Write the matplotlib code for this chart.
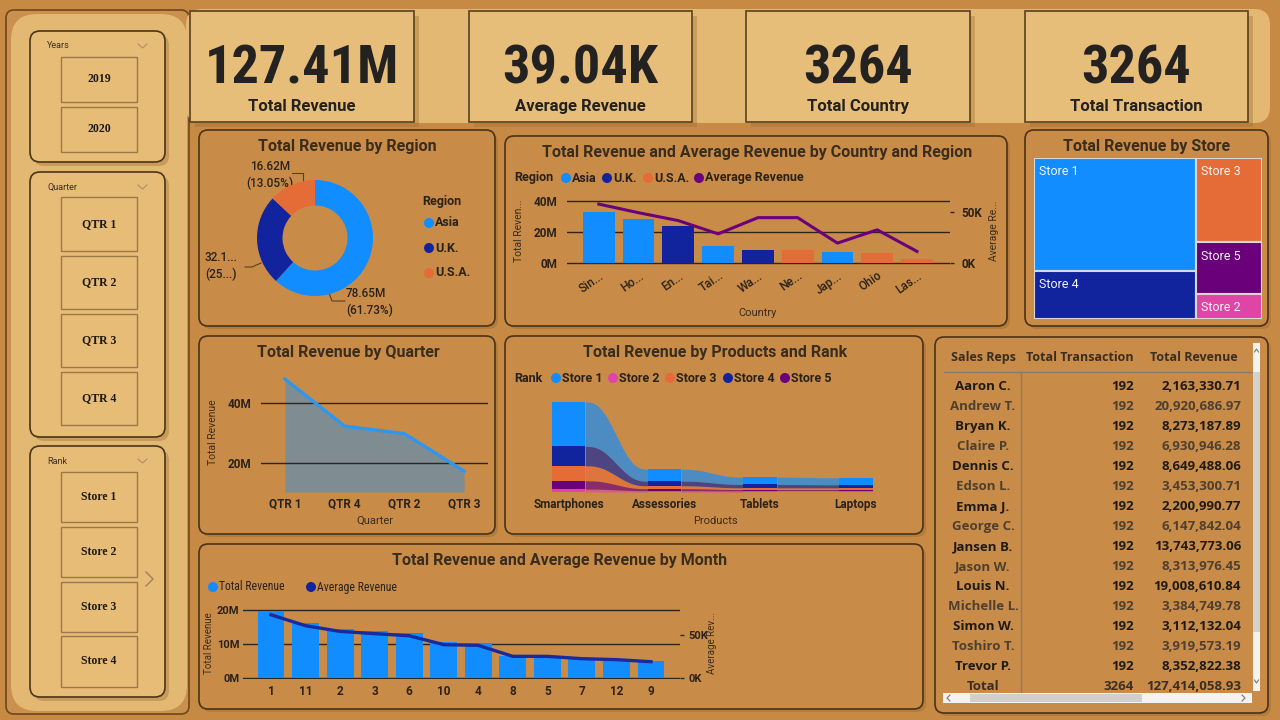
import numpy as np
import matplotlib
matplotlib.use("Agg")
import matplotlib.pyplot as plt
from matplotlib.patches import FancyBboxPatch, Rectangle, Circle
from matplotlib.ticker import FuncFormatter
from matplotlib import font_manager as fm

# ---------------- data ----------------
kpi_values = ["127.41M", "39.04K", "3264", "3264"]
kpi_labels = ["Total Revenue", "Average Revenue", "Total Country", "Total Transaction"]

year_items = ["2019", "2020"]
quarter_items = ["QTR 1", "QTR 2", "QTR 3", "QTR 4"]
rank_items = ["Store 1", "Store 2", "Store 3", "Store 4"]

regions = ["Asia", "U.K.", "U.S.A."]
region_revenue_m = [78.65, 32.14, 16.62]
region_label_text = ["78.65M\n(61.73%)", "32.1...\n(25...)", "16.62M\n(13.05%)"]

countries = ["Sin...", "Ho...", "En...", "Tai...", "Wa...", "Ne...", "Jap...", "Ohio", "Las..."]
country_region = ["Asia", "Asia", "U.K.", "Asia", "U.K.", "U.S.A.", "Asia", "U.S.A.", "U.S.A."]
country_revenue_m = [32.9, 28.4, 23.9, 11.0, 8.4, 8.3, 7.1, 6.5, 2.6]
country_avg_k = [57.4, 49.0, 41.3, 28.4, 44.2, 44.2, 19.4, 32.3, 11.3]

quarters = ["QTR 1", "QTR 4", "QTR 2", "QTR 3"]
quarter_revenue_m = [48.0, 32.3, 29.8, 17.3]

products = ["Smartphones", "Assessories", "Tablets", "Laptops"]
stores = ["Store 1", "Store 2", "Store 3", "Store 4", "Store 5"]
store1_rev_m = [40.0, 10.8, 6.6, 6.3]
store2_rev_m = [2.6, 1.2, 1.0, 1.0]
store3_rev_m = [13.5, 2.6, 1.6, 1.6]
store4_rev_m = [17.5, 4.2, 3.0, 2.7]
store5_rev_m = [7.5, 1.8, 1.2, 1.2]

months = ["1", "11", "2", "3", "6", "10", "4", "8", "5", "7", "12", "9"]
month_revenue_m = [19.8, 16.2, 14.4, 13.7, 13.3, 10.5, 10.2, 6.5, 6.5, 5.8, 5.6, 5.1]
month_avg_k = [73.0, 60.4, 53.8, 51.2, 48.8, 38.5, 37.7, 25.0, 25.0, 22.3, 21.2, 18.8]

sales_reps = ["Aaron C.", "Andrew T.", "Bryan K.", "Claire P.", "Dennis C.", "Edson L.",
              "Emma J.", "George C.", "Jansen B.", "Jason W.", "Louis N.", "Michelle L.",
              "Simon W.", "Toshiro T.", "Trevor P."]
rep_transactions = [192, 192, 192, 192, 192, 192, 192, 192, 192, 192, 192, 192, 192, 192, 192]
rep_revenue = [2163330.71, 20920686.97, 8273187.89, 6930946.28, 8649488.06, 3453300.71,
               2200990.77, 6147842.04, 13743773.06, 8313976.45, 19008610.84, 3384749.78,
               3112132.04, 3919573.19, 8352822.38]
total_transactions = 3264
total_revenue = 127414058.93

# ---------------- style ----------------
PAGE = "#C78A45"
PANEL = "#C98C48"
EDGE = "#4A3216"
CARD = "#E6BD79"
STRIP = "#E3B872"
TXT = "#2A2119"
GRID = "#2B2520"
C_ASIA, C_UK, C_USA, C_AVG = "#118DFF", "#12239E", "#E66C37", "#6B007B"
store_colors = ["#118DFF", "#E044A7", "#E66C37", "#12239E", "#6B007B"]
region_colors = {"Asia": C_ASIA, "U.K.": C_UK, "U.S.A.": C_USA}

plt.rcParams["font.family"] = ["Roboto", "DejaVu Sans"]

_fl = fm.fontManager.ttflist
_names = {f.name for f in _fl}
KPI_FONT = dict(family="Roboto", weight="bold")
NARROW_FAMILY = dict(family="Roboto")
for cand in ["Liberation Sans Narrow", "Roboto Condensed", "Noto Sans Condensed",
             "Open Sans Condensed", "DejaVu Sans Condensed"]:
    if cand in _names:
        KPI_FONT = dict(family=cand, weight="bold")
        NARROW_FAMILY = dict(family=cand)
        break
else:
    if any(f.name == "DejaVu Sans" and f.stretch == "condensed" for f in _fl):
        KPI_FONT = dict(family="DejaVu Sans", weight="bold", stretch="condensed")
        NARROW_FAMILY = dict(family="DejaVu Sans", stretch="condensed")

W, H = 1280, 720
fig = plt.figure(figsize=(12.8, 7.2), dpi=100)
fig.patch.set_facecolor(PAGE)
bg = fig.add_axes([0, 0, 1, 1])
bg.set_xlim(0, W)
bg.set_ylim(H, 0)
bg.axis("off")
renderer = fig.canvas.get_renderer()

# fit KPI number size so the first value spans ~194 px
_probe = bg.text(0, 0, kpi_values[0], fontsize=40, **KPI_FONT)
_w = _probe.get_window_extent(renderer).width
_probe.remove()
KPI_SIZE = min(46, 40 * 194.0 / _w)
MLEG_SIZE = 8.5


def ax_px(x0, y0, x1, y1):
    a = fig.add_axes([x0 / W, 1 - y1 / H, (x1 - x0) / W, (y1 - y0) / H])
    a.set_facecolor("none")
    for s in a.spines.values():
        s.set_visible(False)
    return a


def lims(p_top, p_bot, pa, va, pb, vb):
    slope = (vb - va) / (pb - pa)
    return va + (p_bot - pa) * slope, va + (p_top - pa) * slope


def rbox(x0, y0, x1, y1, fc, ec="none", lw=1.2, r=8, z=2, shadow=0, salpha=0.35):
    if shadow:
        bg.add_patch(FancyBboxPatch((x0 + shadow, y0 + shadow), x1 - x0, y1 - y0,
                                    boxstyle=f"round,pad=0,rounding_size={r}",
                                    fc="#8a5a25", ec="none", alpha=salpha, zorder=z - 0.5))
    bg.add_patch(FancyBboxPatch((x0, y0), x1 - x0, y1 - y0,
                                boxstyle=f"round,pad=0,rounding_size={r}",
                                fc=fc, ec=ec, lw=lw, zorder=z))


def legend_item(x, y, color, label, size=9, weight="bold", fam=None):
    bg.add_patch(Circle((x, y), 5, fc=color, ec="none", zorder=6))
    kw = dict(va="center", ha="left", color=TXT, fontsize=size, fontweight=weight, zorder=6)
    if fam:
        kw.update(fam)
    bg.text(x + 6, y, label, **kw)


def title(x, y, s):
    bg.text(x, y, s, ha="center", va="baseline", fontsize=11.5, fontweight="bold",
            color="#3a2d1e", zorder=6)


def axis_label_center(ax, box, which, px, py):
    x0, y0, x1, y1 = box
    lab = ax.yaxis if which == "y" else ax.xaxis
    lab.set_label_coords((px - x0) / (x1 - x0), (y1 - py) / (y1 - y0))
    lab.label.set_verticalalignment("center")
    lab.label.set_horizontalalignment("center")


fmtM = FuncFormatter(lambda v, p: f"{v / 1e6:.0f}M")
fmtK = FuncFormatter(lambda v, p: f"{v / 1e3:.0f}K")
LBL = dict(fontsize=7.5, color="#3a2c1c")

# ---------------- left slicer panel ----------------
rbox(6, 10, 189, 714, "#C9904E", ec="#6f4719", lw=1.2, r=8, z=1)
rbox(11, 14, 187, 711, STRIP, r=26, z=1.5)


def slicer(y0, y1, label, ly, items, boxes):
    rbox(30, y0, 165, y1, "#E6BC77", ec="#4A3518", lw=1.2, r=10, z=3, shadow=4, salpha=0.3)
    bg.text(47, ly, label, ha="left", va="center", fontsize=6.5, color="#3c2f20", zorder=5)
    bg.plot([138, 142.5, 147], [ly - 2, ly + 2, ly - 2], color="#a8906c", lw=0.8, zorder=5)
    for it, (b0, b1) in zip(items, boxes):
        bg.add_patch(Rectangle((61, b0), 76, b1 - b0, fc="#E6BC77", ec="#9A7848", lw=1, zorder=4))
        bg.text(99, (b0 + b1) / 2, it, ha="center", va="center", family="Liberation Serif",
                fontweight="bold", fontsize=8.5, color="#1c1812", zorder=5)


slicer(31, 162, "Years", 46, year_items, [(57, 102), (107, 152)])
slicer(172, 437, "Quarter", 187, quarter_items, [(197, 251), (256, 309), (314, 367), (372, 425)])
slicer(446, 697, "Rank", 461, rank_items, [(472, 522), (527, 577), (582, 632), (636, 687)])
bg.plot([146, 153, 146], [572, 579, 586], color="#9a8060", lw=1, zorder=5)

# ---------------- KPI strip ----------------
rbox(186, 9, 1270, 123, STRIP, r=16, z=1)
cards = [(190, 414), (469, 692), (746, 970), (1025, 1248)]
for (x0, x1), v, lab in zip(cards, kpi_values, kpi_labels):
    bg.add_patch(Rectangle((x0 + 5, 16), x1 - x0, 111, fc="#9c6a30", ec="none", alpha=0.35, zorder=2))
    bg.add_patch(Rectangle((x0, 11), x1 - x0, 111, fc=CARD, ec="#5a4020", lw=1.2, zorder=3))
    cx = (x0 + x1) / 2
    bg.text(cx, 84, v, ha="center", va="baseline", color="#232221", zorder=5,
            fontsize=KPI_SIZE, **KPI_FONT)
    bg.text(cx, 111, lab, ha="center", va="baseline", color="#232221", fontsize=12,
            fontweight="bold", zorder=5)

# ---------------- panels ----------------
panels = [(199, 130, 495, 326), (505, 136, 1007, 326), (1025, 130, 1268, 326),
          (199, 336, 495, 534), (505, 336, 923, 534), (935, 337, 1268, 713),
          (199, 544, 923, 709)]
for p in panels:
    rbox(*p, PANEL, ec=EDGE, lw=1.2, r=9, z=2, shadow=3, salpha=0.3)

# ---------------- region donut ----------------
title(347, 151, "Total Revenue by Region")
cx, cy, R = 315, 238, 58
axd = ax_px(cx - R, cy - R, cx + R, cy + R)
axd.pie(region_revenue_m, colors=[region_colors[r] for r in regions], startangle=90,
        counterclock=False, radius=1, wedgeprops=dict(width=0.44, edgecolor="none"))
axd.set_xlim(-1, 1)
axd.set_ylim(-1, 1)
axd.axis("off")
leaders = [[(329, 293), (332, 301), (345, 301)],
           [(261, 263), (252, 267), (245, 267)],
           [(303, 181), (303, 173), (292, 173)]]
label_pos = [(346, 302, "left"), (221, 266, "center"), (270, 175, "center")]
for pts, (lx, ly, ha), txt in zip(leaders, label_pos, region_label_text):
    xs, ys = zip(*pts)
    bg.plot(xs, ys, color="#5a4020", lw=0.8, zorder=6)
    bg.text(lx, ly, txt, ha=ha, va="center", fontsize=8.5, fontweight="medium", color=TXT,
            linespacing=1.35, zorder=6)
bg.text(422, 201, "Region", ha="left", va="center", fontsize=9, fontweight="bold", color=TXT, zorder=6)
for i, r in enumerate(regions):
    legend_item(429, 223 + 25 * i, region_colors[r], r, size=9)

# ---------------- country combo ----------------
title(757, 157, "Total Revenue and Average Revenue by Country and Region")
bg.text(514, 178, "Region", ha="left", va="center", fontsize=9, fontweight="bold", color=TXT, zorder=6)
for xx, col, lab in zip([566, 607, 648, 699], [C_ASIA, C_UK, C_USA, C_AVG],
                        ["Asia", "U.K.", "U.S.A.", "Average Revenue"]):
    legend_item(xx, 178, col, lab, size=9)
cb = (567, 199, 950, 265)
axc = ax_px(*cb)
xc = np.arange(len(countries))
axc.bar(xc, np.array(country_revenue_m) * 1e6, width=0.8,
        color=[region_colors[r] for r in country_region], zorder=2)
axc.set_ylim(*lims(cb[1], cb[3], 201, 40e6, 263, 0))
axc.set_xlim(-0.8, len(countries) - 1 + 0.83)
axc.set_yticks([0, 20e6, 40e6])
axc.yaxis.set_major_formatter(fmtM)
axc.grid(axis="y", color=GRID, lw=1)
axc.set_axisbelow(True)
axc.tick_params(axis="y", length=0, pad=7, labelsize=8.5, labelcolor=TXT)
axc.set_xticks(xc)
axc.set_xticklabels(countries, rotation=35, ha="right", rotation_mode="anchor",
                    fontsize=8.5, fontweight="medium", color=TXT)
axc.tick_params(axis="x", length=0, pad=3)
for t in axc.get_yticklabels():
    t.set_fontweight("bold")
axc.set_ylabel("Total Reven...", **LBL)
axis_label_center(axc, cb, "y", 519, 231)
axc.set_xlabel("Country", fontsize=8, color="#3a2c1c")
axis_label_center(axc, cb, "x", 758, 313)
axcr = axc.twinx()
axcr.set_facecolor("none")
for s in axcr.spines.values():
    s.set_visible(False)
axcr.plot(xc, np.array(country_avg_k) * 1e3, color=C_AVG, lw=2.2, zorder=3)
axcr.set_ylim(*lims(cb[1], cb[3], 211.7, 50e3, 263, 0))
axcr.set_yticks([0, 50e3])
axcr.yaxis.set_major_formatter(fmtK)
axcr.tick_params(axis="y", length=3, width=1, color=GRID, pad=5, labelsize=8.5, labelcolor=TXT)
for t in axcr.get_yticklabels():
    t.set_fontweight("bold")
axcr.set_ylabel("Average Re...", **LBL)
axis_label_center(axcr, cb, "y", 994, 231)

# ---------------- store treemap ----------------
title(1147, 151, "Total Revenue by Store")
store_totals = np.array([sum(store1_rev_m), sum(store2_rev_m), sum(store3_rev_m),
                         sum(store4_rev_m), sum(store5_rev_m)])
axt = ax_px(1034, 158, 1262, 319)
axt.set_xlim(0, 1)
axt.set_ylim(1, 0)
axt.axis("off")
order = list(np.argsort(-store_totals))
groups = [order[:2], order[2:]]
tot = store_totals.sum()
gx = 0.0
for g in groups:
    gw = store_totals[g].sum() / tot
    gy = 0.0
    for i in g:
        hh = store_totals[i] / store_totals[g].sum()
        axt.add_patch(Rectangle((gx, gy), gw, hh, fc=store_colors[i], ec="#d8d8d8", lw=1.5))
        axt.text(gx + 0.022, gy + 0.085, stores[i], ha="left", va="center", fontsize=9,
                 color="#f4f4f4")
        gy += hh
    gx += gw

# ---------------- quarter area ----------------
title(348, 357, "Total Revenue by Quarter")
qb = (261, 372, 488, 492)
axq = ax_px(*qb)
xq = np.arange(len(quarters))
ylo, yhi = lims(qb[1], qb[3], 403, 40e6, 463, 20e6)
qv = np.array(quarter_revenue_m) * 1e6
axq.fill_between(xq, qv, ylo, color="#118DFF", alpha=0.4, lw=0, zorder=1)
axq.plot(xq, qv, color="#2F96EE", lw=2.4, zorder=3)
axq.set_ylim(ylo, yhi)
axq.set_xlim(-0.4, len(quarters) - 1 + 0.4)
axq.set_yticks([20e6, 40e6])
axq.yaxis.set_major_formatter(fmtM)
axq.grid(axis="y", color=GRID, lw=1, zorder=2)
axq.tick_params(axis="y", length=0, pad=7, labelsize=8.5, labelcolor=TXT)
axq.set_xticks(xq)
axq.set_xticklabels(quarters, fontsize=8.5, fontweight="bold", color=TXT)
axq.tick_params(axis="x", length=0, pad=4)
for t in axq.get_yticklabels():
    t.set_fontweight("bold")
axq.set_ylabel("Total Revenue", **LBL)
axis_label_center(axq, qb, "y", 213, 432)
axq.set_xlabel("Quarter", fontsize=8, color="#3a2c1c")
axis_label_center(axq, qb, "x", 375, 521)

# ---------------- products ribbon ----------------
title(715, 357, "Total Revenue by Products and Rank")
bg.text(514, 378, "Rank", ha="left", va="center", fontsize=9, fontweight="bold", color=TXT, zorder=6)
for xx, col, lab in zip([556, 613, 670, 728, 785], store_colors, stores):
    legend_item(xx, 378, col, lab, size=9)
pb = (540, 395, 890, 492)
axp = ax_px(*pb)
vals = np.array([store1_rev_m, store2_rev_m, store3_rev_m, store4_rev_m, store5_rev_m])
ns, npr = vals.shape
bottoms = np.zeros_like(vals)
tops = np.zeros_like(vals)
for j in range(npr):
    cum = 0.0
    for i in np.argsort(vals[:, j], kind="stable"):
        bottoms[i, j] = cum
        cum += vals[i, j]
        tops[i, j] = cum
hw = 0.175
t = np.linspace(0, 1, 80)
s = t ** 3 * (t * (6 * t - 15) + 10)
for i in range(ns):
    for j in range(npr - 1):
        x0, x1 = j + hw, j + 1 - hw
        b = bottoms[i, j] + (bottoms[i, j + 1] - bottoms[i, j]) * s
        tp = tops[i, j] + (tops[i, j + 1] - tops[i, j]) * s
        axp.fill_between(x0 + (x1 - x0) * t, b, tp, color=store_colors[i], alpha=0.68, lw=0,
                         zorder=1 + i * 0.01)
    for j in range(npr):
        axp.add_patch(Rectangle((j - hw, bottoms[i, j]), 2 * hw, vals[i, j],
                                fc=store_colors[i], ec="none", zorder=3))
ymax = tops.max()
axp.set_ylim(0, ymax * (492 - 395) / (492 - 402))
axp.set_xlim((540 - 568.5) / 95.8, (890 - 568.5) / 95.8)
axp.set_yticks([])
axp.set_xticks(np.arange(npr))
axp.set_xticklabels(products, fontsize=8.5, fontweight="bold", color=TXT)
axp.tick_params(axis="x", length=0, pad=4)
axp.set_xlabel("Products", fontsize=8, color="#3a2c1c")
axis_label_center(axp, pb, "x", 715, 521)

# ---------------- month combo ----------------
title(560, 565, "Total Revenue and Average Revenue by Month")
legend_item(213, 587, "#118DFF", "Total Revenue", size=MLEG_SIZE, weight="normal", fam=NARROW_FAMILY)
legend_item(311, 587, "#12239E", "Average Revenue", size=MLEG_SIZE, weight="normal", fam=NARROW_FAMILY)
mb = (243, 604, 680, 679)
axm = ax_px(*mb)
xm = np.arange(len(months))
axm.bar(xm, np.array(month_revenue_m) * 1e6, width=0.78, color="#118DFF", zorder=2)
axm.set_ylim(*lims(mb[1], mb[3], 610, 20e6, 678, 0))
axm.set_xlim(-0.81, len(months) - 1 + 0.84)
axm.set_yticks([0, 10e6, 20e6])
axm.yaxis.set_major_formatter(fmtM)
axm.grid(axis="y", color=GRID, lw=1)
axm.set_axisbelow(True)
axm.tick_params(axis="y", length=0, pad=2.5, labelsize=8, labelcolor=TXT)
for tl in axm.get_yticklabels():
    tl.set_fontweight("bold")
axm.set_xticks(xm)
axm.set_xticklabels(months, fontsize=8.5, fontweight="bold", color=TXT)
axm.tick_params(axis="x", length=0, pad=4)
axm.set_ylabel("Total Revenue", fontsize=7, color="#3a2c1c")
axis_label_center(axm, mb, "y", 209, 643)
axmr = axm.twinx()
axmr.set_facecolor("none")
for sp in axmr.spines.values():
    sp.set_visible(False)
axmr.plot(xm, np.array(month_avg_k) * 1e3, color="#1A2A9E", lw=2.4, zorder=3)
axmr.set_ylim(*lims(mb[1], mb[3], 634.7, 50e3, 678, 0))
axmr.set_yticks([0, 50e3])
axmr.yaxis.set_major_formatter(fmtK)
axmr.tick_params(axis="y", length=3, width=1, color=GRID, pad=3, labelsize=8, labelcolor=TXT)
for tl in axmr.get_yticklabels():
    tl.set_fontweight("bold")
axmr.set_ylabel("Average Rev...", fontsize=7, color="#3a2c1c")
axis_label_center(axmr, mb, "y", 712, 643)

# ---------------- table ----------------
TF = "Open Sans"
hdr_y = 361
HC = "#3a2e22"
bg.text(983, hdr_y, "Sales Reps", ha="center", va="baseline", family=TF, fontsize=9,
        fontweight="bold", color=HC, zorder=6)
bg.text(1134, hdr_y, "Total Transaction", ha="right", va="baseline", family=TF, fontsize=9,
        fontweight="bold", color=HC, zorder=6)
bg.text(1238, hdr_y, "Total Revenue", ha="right", va="baseline", family=TF, fontsize=9,
        fontweight="bold", color=HC, zorder=6)
bg.plot([944, 1252], [372, 372], color="#8a7a66", lw=1, zorder=6)
bg.plot([1021, 1021], [372, 692], color="#8a7a66", lw=1, zorder=6)
rows = list(zip(sales_reps, rep_transactions, rep_revenue))
for k, (nm, tr, rv) in enumerate(rows):
    yb = 390 + 20 * k
    col = "#1f1a14" if k % 2 == 0 else "#4f3f2e"
    kw = dict(va="baseline", family=TF, fontsize=9.5, fontweight="bold", color=col, zorder=6)
    bg.text(983, yb, nm, ha="center", **kw)
    bg.text(1134, yb, f"{tr}", ha="right", **kw)
    bg.text(1241, yb, f"{rv:,.2f}", ha="right", **kw)
yb = 390 + 20 * len(rows)
kw = dict(va="baseline", family=TF, fontsize=9.5, fontweight="bold", color=HC, zorder=6)
bg.text(983, yb, "Total", ha="center", **kw)
bg.text(1134, yb, f"{total_transactions}", ha="right", **kw)
bg.text(1241, yb, f"{total_revenue:,.2f}", ha="right", **kw)
# scrollbars
bg.add_patch(Rectangle((1253, 343), 7, 348, fc="#f3f3f3", ec="none", zorder=6))
bg.add_patch(Rectangle((1253, 372), 7, 260, fc="#d2d2d2", ec="none", zorder=7))
bg.add_patch(Rectangle((943, 693), 309, 10, fc="#f3f3f3", ec="none", zorder=6))
bg.add_patch(Rectangle((970, 694), 172, 8, fc="#cfcfcf", ec="none", zorder=7))
bg.plot([950, 947, 950], [695, 698, 701], color="#777", lw=0.8, zorder=8)
bg.plot([1242, 1245, 1242], [695, 698, 701], color="#777", lw=0.8, zorder=8)
bg.plot([1254.5, 1256.5, 1258.5], [352, 349, 352], color="#777", lw=0.8, zorder=8)
bg.plot([1254.5, 1256.5, 1258.5], [680, 683, 680], color="#777", lw=0.8, zorder=8)

fig.savefig("out.png", dpi=100, facecolor=fig.get_facecolor())
